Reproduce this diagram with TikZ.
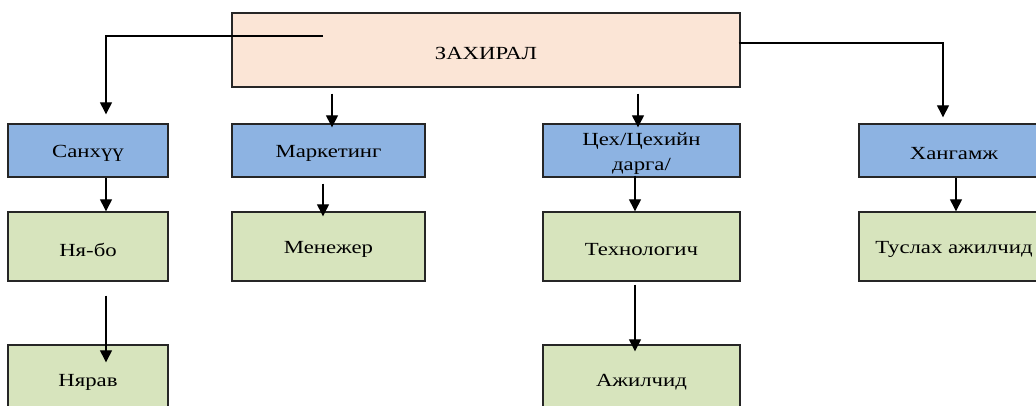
\documentclass[tikz,border=0pt]{standalone}
\usepackage{fontspec}
\setmainfont{Liberation Serif}
\usetikzlibrary{arrows.meta}
\definecolor{peach}{HTML}{FBE5D6}
\definecolor{bluebox}{HTML}{8DB3E2}
\definecolor{greenbox}{HTML}{D7E4BD}
\definecolor{edge}{HTML}{262626}
\newcommand{\wide}[1]{\raisebox{-3pt}[\height][\depth]{\scalebox{1.23}[1]{#1}}}
\begin{document}
\begin{tikzpicture}[x=1pt,y=-1pt,
  box/.style={draw=edge, line width=1.4pt, rectangle, inner sep=0pt, align=center,
    font=\fontsize{18.5}{25}\selectfont},
  topbox/.style={box, fill=peach, minimum width=508pt, minimum height=74pt},
  dept/.style={box, fill=bluebox, minimum height=53pt},
  staff/.style={box, fill=greenbox, minimum height=69pt},
  conn/.style={draw=black, line width=1.3pt, -{Triangle[width=12pt,length=12pt]}}
]
\useasboundingbox (0,0) rectangle (1036,405);
\clip (0,0) rectangle (1036,405);
\node[topbox] (dir) at (486,50) {\wide{ЗАХИРАЛ}};
\node[dept, minimum width=160pt] (san) at (88,150.5) {\wide{Санхүү}};
\node[dept, minimum width=193pt] (mar) at (328.5,150.5) {\wide{Маркетинг}};
\node[dept, minimum width=197pt] (tse) at (641.5,150.5) {\wide{Цех/Цехийн}\\\wide{дарга/}};
\node[dept, minimum width=190pt] (han) at (954,150.5) {\wide{Хангамж}};
\node[staff, minimum width=160pt] (nya) at (88,246.5) {\wide{Ня-бо}};
\node[staff, minimum width=193pt] (men) at (328.5,246.5) {\wide{Менежер}};
\node[staff, minimum width=197pt] (tex) at (641.5,246.5) {\wide{Технологич}};
\node[staff, minimum width=190pt] (tus) at (954,246.5) {\wide{Туслах ажилчид}};
\node[staff, minimum width=160pt] (nyr) at (88,379.5) {\wide{Нярав}};
\node[staff, minimum width=197pt] (ajl) at (641.5,379.5) {\wide{Ажилчид}};
\coordinate (c1) at (323,36);
\draw[conn] (c1) -| ([xshift=18pt,yshift=9pt]san.north);
\draw[conn] ([xshift=3.5pt,yshift=-6pt]dir.south -| mar.north) -- ([xshift=3.5pt,yshift=-4pt]mar.north);
\draw[conn] ([xshift=-3.5pt,yshift=-6pt]dir.south -| tse.north) -- ([xshift=-3.5pt,yshift=-4pt]tse.north);
\draw[conn] ([xshift=-2pt,yshift=7pt]dir.east) -| ([xshift=-11pt,yshift=6pt]han.north);
\draw[conn] ([xshift=18pt]san.south) -- ([xshift=18pt]nya.north);
\draw[conn] ([xshift=-5.5pt,yshift=-6pt]mar.south) -- ([xshift=-5.5pt,yshift=-5pt]men.north);
\draw[conn] ([xshift=-6.5pt,yshift=2pt]tse.south) -- ([xshift=-6.5pt]tex.north);
\draw[conn] ([xshift=2pt]han.south) -- ([xshift=2pt]tus.north);
\draw[conn] ([xshift=18pt,yshift=-14pt]nya.south) -- ([xshift=18pt,yshift=-18pt]nyr.north);
\draw[conn] ([xshift=-6.5pt,yshift=-3pt]tex.south) -- ([xshift=-6.5pt,yshift=-7pt]ajl.north);
\end{tikzpicture}
\end{document}
